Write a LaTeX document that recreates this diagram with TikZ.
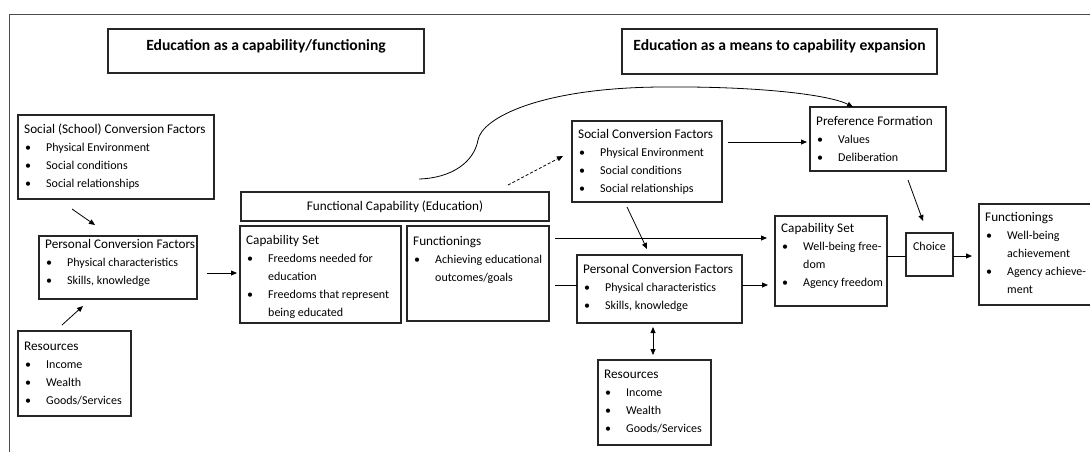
\documentclass[tikz,border=0pt]{standalone}
\usepackage{fontspec}
\setmainfont{Carlito}
\usetikzlibrary{arrows.meta,calc}

\tikzset{
  panel/.style={draw=black!85, line width=1.2pt, anchor=north west, inner sep=0pt, outer sep=0pt},
  paneltext/.style={anchor=north west, inner sep=0pt, align=left, font=\fontsize{12}{18}\selectfont},
  plaintext/.style={inner sep=0pt, font=\fontsize{12}{18}\selectfont},
  titletext/.style={inner sep=0pt, font=\fontsize{15.6}{18}\selectfont\bfseries},
  arr/.style={line width=0.8pt, -{Triangle[length=6pt,width=5pt]}},
  biarr/.style={line width=0.8pt, {Triangle[length=6pt,width=5pt]}-{Triangle[length=6pt,width=5pt]}},
  link/.style={line width=0.8pt},
  frame/.style={draw=black!70, line width=1pt}
}

% heading size, bullet and continuation indent for list lines
\newcommand{\hdfont}{\fontsize{13.2}{18}\selectfont}
\newcommand{\bul}{\makebox[22pt][l]{\hspace{1pt}\textbullet}}
\newcommand{\cont}{\hspace*{22pt}}
% box: name, x, y, width, height, first baseline offset, heading, list lines
\newcommand{\mkpanel}[8]{%
  \node[panel, minimum width=#4pt, minimum height=#5pt] (#1) at (#2,#3) {};
  \node[paneltext] at ([shift={(6pt,{(12.6-#6)*1pt})}]#1.north west) {{\hdfont\strut #7}\\#8};
}

\begin{document}
\begin{tikzpicture}[x=1pt, y=-1pt]
\useasboundingbox (0,0) rectangle (1090,451);
\draw[frame] (9,14) rectangle (1110,470);

% headings
\node[panel, minimum width=316pt, minimum height=44pt] (ta) at (108,29) {};
\node[titletext, anchor=base] at ([yshift=-21.5pt]ta.north) {Education as a capability/functioning};
\node[panel, minimum width=315pt, minimum height=45pt] (tb) at (622,29) {};
\node[titletext, anchor=base] at ([yshift=-21.5pt]tb.north) {Education as a means to capability expansion};

% left part: education as a capability
\mkpanel{sscf}{18}{115}{196}{84}{18}{Social (School) Conversion Factors}{\bul Physical Environment\\\bul Social conditions\\\bul Social relationships}
\mkpanel{pcfa}{39}{236}{158}{63}{12.5}{Personal Conversion Factors}{\bul Physical characteristics\\\bul Skills, knowledge}
\mkpanel{resa}{18}{331}{113}{85}{19}{Resources}{\bul Income\\\bul Wealth\\\bul Goods/Services}

\node[panel, minimum width=308pt, minimum height=29pt] (fcap) at (241,192) {};
\node[plaintext, font=\hdfont] at (fcap.center) {Functional Capability (Education)};
\mkpanel{capa}{240}{226}{161}{97}{18}{Capability Set}{\bul Freedoms needed for\\\cont education\\\bul Freedoms that represent\\\cont being educated}
\mkpanel{funa}{407}{226}{142}{95}{19}{Functionings}{\bul Achieving educational\\\cont outcomes/goals}

% right part: education as a means
\mkpanel{scf}{572}{121}{150}{81}{17}{Social Conversion Factors}{\bul Physical Environment\\\bul Social conditions\\\bul Social relationships}
\mkpanel{pcfb}{577}{255}{165}{68}{18}{Personal Conversion Factors}{\bul Physical characteristics\\\bul Skills, knowledge}
\mkpanel{resb}{598}{360}{113}{85}{18}{Resources}{\bul Income\\\bul Wealth\\\bul Goods/Services}
\mkpanel{pref}{810}{107}{136}{64}{18}{Preference Formation}{\bul Values\\\bul Deliberation}
\mkpanel{capb}{775}{216}{112}{90}{16}{Capability Set}{\bul Well-being free-\\\cont dom\\\bul Agency freedom}
\node[panel, minimum width=47pt, minimum height=43pt] (choice) at (906,233) {};
\node[plaintext, anchor=base] at ([yshift=-17pt]choice.north) {Choice};
\mkpanel{funb}{979}{204}{125}{101}{17}{Functionings}{\bul Well-being\\\cont achievement\\\bul Agency achieve-\\\cont ment}

% connectors, left part
\draw[arr] ($(sscf.south west)+(54,10)$) -- ($(pcfa.north west)+(56,-11)$);
\draw[arr] ($(resa.north west)+(44,-6)$) -- ($(pcfa.south west)+(44,7)$);
\draw[arr] ($(pcfa.north east)+(10,37)$) -- ($(capa.north west)+(-3,47)$);

% connectors, right part
\draw[arr, dash pattern=on 3pt off 2pt] ($(fcap.north east)+(-41,-7)$) -- ($(scf.north west)+(-9,35)$);
\coordinate (cs) at ($(fcap.north east)+(-130,-13)$);
\coordinate (ce) at ($(pref.north west)+(43,0)$);
\coordinate (kink) at (478,140);
\coordinate (crest) at (660,87);
\draw[arr] (cs) .. controls +(33,-1) and +(-4,22) .. (kink)
               .. controls +(4,-22) and +(-120,1) .. (crest)
               .. controls +(100,-1) and +(-23,-12) .. (ce);
\draw[arr] ($(scf.north east)+(6,21)$) -- ($(pref.north west)+(-3,35)$);
\draw[arr] ($(scf.south west)+(55,5)$) -- ($(pcfb.north west)+(70,-6)$);
\draw[arr] ($(funa.north east)+(6,12)$) -- ($(capb.north west)+(-8,22)$);
\draw[link] ($(funa.north east)+(6,59)$) -- ($(pcfb.north west)+(0,30)$);
\draw[arr] ($(pcfb.north east)+(0,30)$) -- ($(capb.north west)+(-7,69)$);
\draw[biarr] ($(pcfb.south west)+(76,4)$) -- ($(resb.north west)+(55,-5)$);
\draw[arr] ($(pref.south west)+(98,9)$) -- ($(choice.north west)+(17,-12)$);
\draw[link] ($(capb.north east)+(0,40)$) -- ($(choice.north west)+(0,23)$);
\draw[arr] ($(choice.north east)+(0,23)$) -- ($(funb.north west)+(-7,52)$);
\end{tikzpicture}
\end{document}
